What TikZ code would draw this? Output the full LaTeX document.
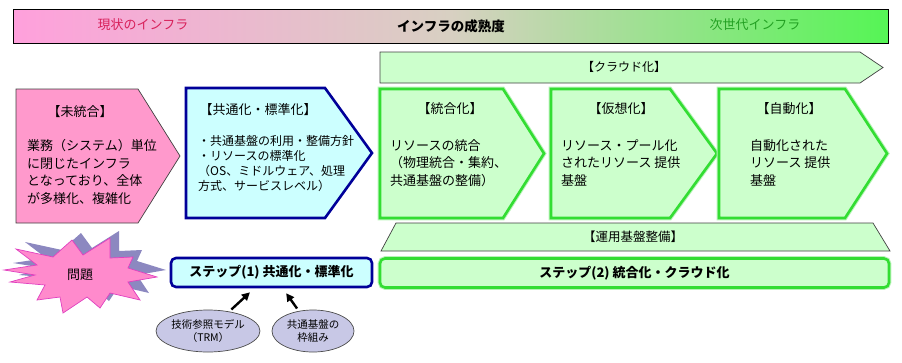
\documentclass[tikz,border=0pt]{standalone}
\usepackage{fontspec}
\setmainfont{Noto Sans CJK JP}
\usetikzlibrary{arrows.meta,positioning,shapes.geometric}

\definecolor{pinkfill}{HTML}{FF99CC}
\definecolor{cyanfill}{HTML}{CCFFFF}
\definecolor{greenfill}{HTML}{CCFFCC}
\definecolor{greenline}{HTML}{33DD33}
\definecolor{blueline}{HTML}{000099}
\definecolor{lavender}{HTML}{C8C8E6}
\definecolor{shadowpurple}{HTML}{8C88C0}
\definecolor{burstpink}{HTML}{FF8ACC}
\definecolor{burstline}{HTML}{E040C0}
\definecolor{nowred}{HTML}{D8205A}
\definecolor{nextgreen}{HTML}{22A022}
\definecolor{barleft}{HTML}{FFA0DC}
\definecolor{barmid}{HTML}{D8D0C2}
\definecolor{barright}{HTML}{55F555}

\begin{document}
\begin{tikzpicture}[
  x=1pt, y=-1pt,
  plain/.style={draw=black!75, line width=0.7pt},
  pinkshape/.style={plain, fill=pinkfill},
  blueshape/.style={draw=blueline, line width=2.6pt, fill=cyanfill},
  greenshape/.style={draw=greenline, line width=2.6pt, fill=greenfill,
    preaction={draw=greenline!35, line width=4.6pt}},
  title/.style={font=\fontsize{13}{15}\selectfont},
  body/.style={align=left, anchor=north west, inner sep=0pt, font=\fontsize{13}{17.8}\selectfont},
  smallbody/.style={body, font=\fontsize{12}{15}\selectfont},
  stepbox/.style={rounded corners=5pt, minimum height=29pt, font=\bfseries\fontsize{13}{15}\selectfont},
  oval/.style={ellipse, draw=black!70, line width=0.7pt, fill=lavender, align=center,
    inner sep=0pt, minimum height=42pt, font=\fontsize{10.5}{13}\selectfont},
  arrow/.style={-{Triangle[length=8pt,width=8pt]}, line width=2.4pt, shorten <=3pt, shorten >=6pt}
]
\useasboundingbox (0,0) rectangle (902,362);

% maturity bar
\shade[left color=barleft, right color=barright, middle color=barmid]
  (13,9) rectangle (888,43);
\draw[black, line width=1pt] (13,9) rectangle (888,43);
\node[text=nowred, font=\fontsize{13}{15}\selectfont] (now) at (143,25) {現状のインフラ};
\node[font=\bfseries\fontsize{13.5}{15}\selectfont] (maturity) at (451,26) {インフラの成熟度};
\node[text=nextgreen, font=\fontsize{13}{15}\selectfont] (next) at (755,25) {次世代インフラ};

% cloud arrow
\draw[plain, fill=greenfill] (380,52) -- (860,52) -- (883,67.5) -- (860,83) -- (380,83) -- cycle;
\node[font=\fontsize{12}{14}\selectfont] (cloud) at (624,67) {【クラウド化】};

% stages
\draw[pinkshape] (16,89) -- (138,89) -- (180,156) -- (138,223) -- (16,223) -- cycle;
\node[title] (mitougou) at (80,112) {【未統合】};
\node[body] (mitougoutext) at (27,139) {業務（システム）単位\\に閉じたインフラ\\となっており、全体\\が多様化、複雑化};

\draw[blueshape] (186,88) -- (325,88) -- (372,153) -- (325,218) -- (186,218) -- cycle;
\node[title] (kyoutsuu) at (258,110) {【共通化・標準化】};
\node[smallbody] (kyoutsuutext) at (198,135) {・共通基盤の利用・整備方針\\・リソースの標準化\\（OS、ミドルウェア、処理\\方式、サービスレベル）};

\draw[greenshape] (380,89) -- (503,89) -- (544,153.5) -- (503,218) -- (380,218) -- cycle;
\node[title] (tougou) at (450,109) {【統合化】};
\node[body] (tougoutext) at (390,139) {リソースの統合\\（物理統合・集約、\\共通基盤の整備）};

\draw[greenshape] (551,89) -- (670,89) -- (717,153.5) -- (670,218) -- (551,218) -- cycle;
\node[title] (kasou) at (621,109) {【仮想化】};
\node[body] (kasoutext) at (561,139) {リソース・プール化\\されたリソース 提供\\基盤};

\draw[greenshape] (719,89) -- (845,89) -- (887,153.5) -- (845,218) -- (719,218) -- cycle;
\node[title] (jidou) at (789,109) {【自動化】};
\node[body] (jidoutext) at (750,139) {自動化された\\リソース 提供\\基盤};

% operation base
\draw[plain, fill=greenfill] (396,223) -- (873,223) -- (890,251) -- (381,251) -- cycle;
\node[font=\fontsize{12.5}{14}\selectfont] (unyou) at (633,237) {【運用基盤整備】};

% problem burst
\begin{scope}[shift={(9,-7)}]
  \fill[shadowpurple] (4,270) -- (37,265) -- (16,249) -- (53,257) -- (63,248) -- (72,240) -- (83,255)
    -- (110,238) -- (110,258) -- (133,257) -- (128,268) -- (157,277) -- (128,282) -- (140,300)
    -- (110,293) -- (100,308) -- (87,297) -- (63,313) -- (60,297) -- (37,300) -- (45,285)
    -- (10,282) -- (35,275) -- cycle;
\end{scope}
\filldraw[fill=burstpink, draw=burstline, line width=0.7pt]
  (4,270) -- (37,265) -- (16,249) -- (53,257) -- (63,248) -- (72,240) -- (83,255)
  -- (110,238) -- (110,258) -- (133,257) -- (128,268) -- (157,277) -- (128,282) -- (140,300)
  -- (110,293) -- (100,308) -- (87,297) -- (63,313) -- (60,297) -- (37,300) -- (45,285)
  -- (10,282) -- (35,275) -- cycle;
\node[font=\fontsize{13}{15}\selectfont] (mondai) at (80,275) {問題};

% steps
\node[stepbox, draw=blueline, line width=2.6pt, fill=cyanfill, minimum width=201pt] (step1) at (271.5,272.5)
  {ステップ(1) 共通化・標準化};
\node[stepbox, draw=greenline, line width=2.6pt, fill=greenfill, minimum width=509pt,
  preaction={draw=greenline!35, line width=4.6pt}] (step2) at (634.5,273)
  {ステップ(2) 統合化・クラウド化};

% references
\node[oval, minimum width=92pt] (trm) at (208,331) {技術参照モデル\\（TRM）};
\node[oval, minimum width=82pt] (frame) at (313,331) {共通基盤の\\枠組み};

\draw[arrow] (trm) -- (step1);
\draw[arrow] (frame) -- (step1);
\end{tikzpicture}
\end{document}
